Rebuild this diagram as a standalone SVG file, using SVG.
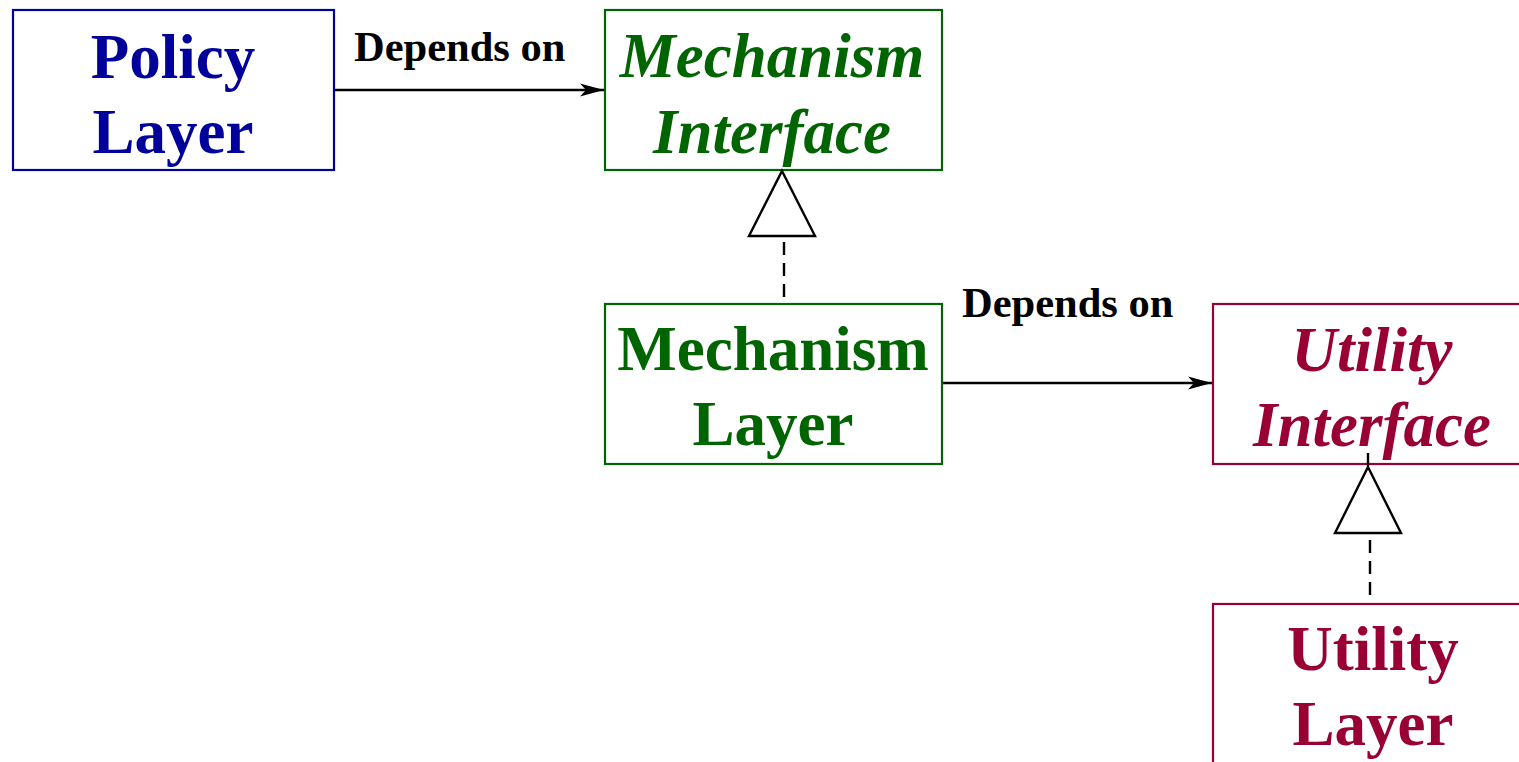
<svg xmlns="http://www.w3.org/2000/svg" width="1519" height="762" viewBox="0 0 1519 762">
<defs>
<style>
.box{fill:#fff;stroke-width:2.2}
.t{font-family:"Liberation Serif","Times New Roman",serif;font-weight:bold;font-size:63px;text-anchor:middle}
.i{font-style:italic}
.lbl{font-family:"Liberation Serif","Times New Roman",serif;font-weight:bold;font-size:42.5px;fill:#000}
.ln{stroke:#000;stroke-width:2.4;fill:none}
.dash{stroke:#000;stroke-width:2.4;fill:none;stroke-dasharray:13,8}
.tri{fill:#fff;stroke:#000;stroke-width:2.4}
</style>
<marker id="arr" markerWidth="26" markerHeight="16" refX="24" refY="8" orient="auto" markerUnits="userSpaceOnUse">
<path d="M0,1.5 L24,8 L0,14.5 L6,8 Z" fill="#000"/>
</marker>
</defs>
<g id="policy">
<rect class="box" x="13" y="10" width="321" height="160" stroke="#00009b"/>
<text class="t" fill="#00009b" x="173" y="78">Policy</text>
<text class="t" fill="#00009b" x="173" y="153">Layer</text>
</g>
<g id="mech-interface">
<rect class="box" x="605" y="10" width="337" height="160" stroke="#006400"/>
<text class="t i" fill="#006400" x="772" y="77">Mechanism</text>
<text class="t i" fill="#006400" x="772" y="153">Interface</text>
</g>
<g id="mech-layer">
<rect class="box" x="605" y="304" width="337" height="160" stroke="#006400"/>
<text class="t" fill="#006400" x="773" y="370">Mechanism</text>
<text class="t" fill="#006400" x="773" y="445">Layer</text>
</g>
<g id="util-interface">
<rect class="box" x="1213" y="304" width="320" height="160" stroke="#990033"/>
<text class="t i" fill="#990033" x="1372" y="371">Utility</text>
<text class="t i" fill="#990033" x="1372" y="446">Interface</text>
</g>
<g id="util-layer">
<rect class="box" x="1213" y="604" width="320" height="180" stroke="#990033"/>
<text class="t" fill="#990033" x="1373" y="670">Utility</text>
<text class="t" fill="#990033" x="1373" y="745">Layer</text>
</g>
<g id="connectors">
<line class="ln" x1="335" y1="90" x2="604" y2="90" marker-end="url(#arr)"/>
<text class="lbl" x="354" y="61">Depends on</text>
<line class="ln" x1="943" y1="383" x2="1212" y2="383" marker-end="url(#arr)"/>
<text class="lbl" x="962" y="317">Depends on</text>
<line class="dash" x1="784" y1="297" x2="784" y2="237"/>
<polygon class="tri" points="782,171 815,236 749,236"/>
<line class="ln" x1="1368" y1="453" x2="1368" y2="466"/>
<line class="dash" x1="1370" y1="595" x2="1370" y2="535"/>
<polygon class="tri" points="1368,467 1401,533 1335,533"/>
</g>
</svg>
